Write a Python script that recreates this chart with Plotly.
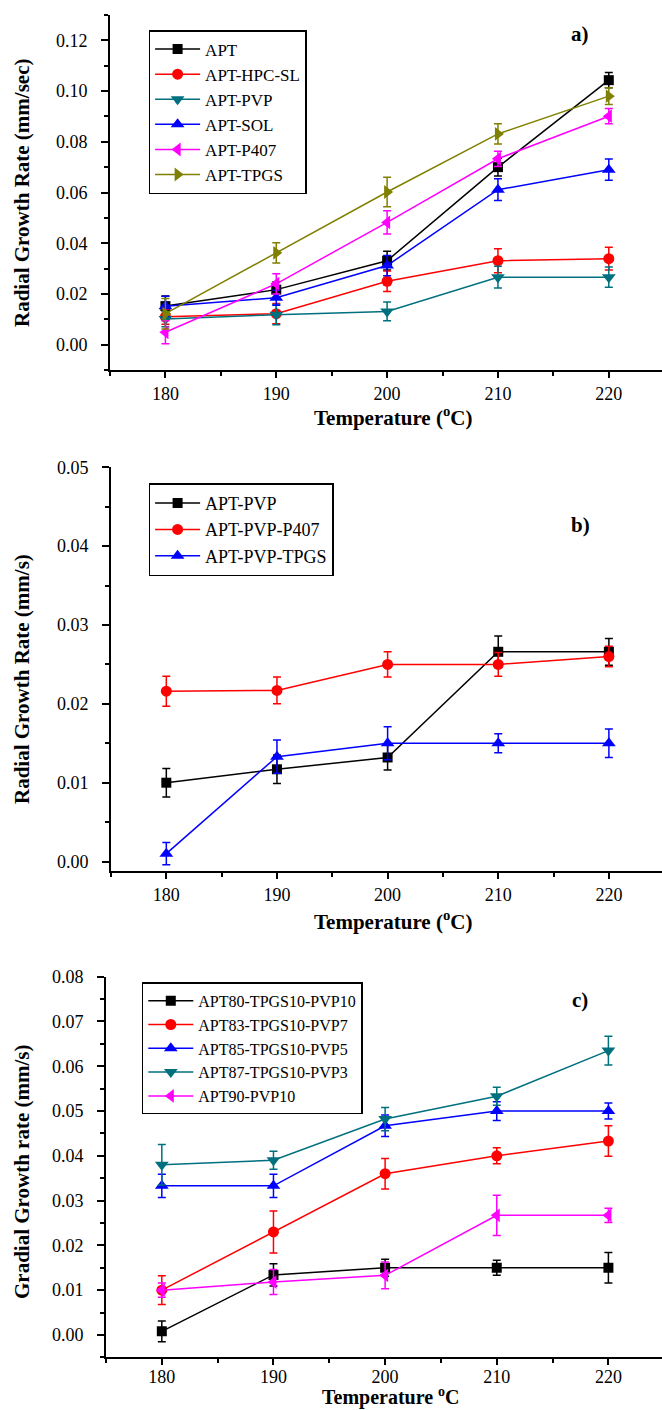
import plotly.graph_objects as go

temps = [180, 190, 200, 210, 220]

# ---- Panel a) data ----
a_names = ["APT", "APT-HPC-SL", "APT-PVP", "APT-SOL", "APT-P407", "APT-TPGS"]
a_apt = [0.0152, 0.0217, 0.0331, 0.0700, 0.1043]
a_apt_err = [0.0040, 0.0030, 0.0037, 0.0035, 0.0030]
a_hpc = [0.0110, 0.0122, 0.0250, 0.0331, 0.0339]
a_hpc_err = [0.0030, 0.0040, 0.0040, 0.0047, 0.0045]
a_pvp = [0.0101, 0.0118, 0.0131, 0.0266, 0.0266]
a_pvp_err = [0.0030, 0.0040, 0.0037, 0.0043, 0.0040]
a_sol = [0.0151, 0.0185, 0.0312, 0.0611, 0.0690]
a_sol_err = [0.0040, 0.0030, 0.0040, 0.0043, 0.0042]
a_p407 = [0.0049, 0.0240, 0.0482, 0.0733, 0.0901]
a_p407_err = [0.0045, 0.0040, 0.0046, 0.0030, 0.0030]
a_tpgs = [0.0122, 0.0362, 0.0602, 0.0831, 0.0980]
a_tpgs_err = [0.0060, 0.0040, 0.0058, 0.0040, 0.0033]

# ---- Panel b) data ----
b_names = ["APT-PVP", "APT-PVP-P407", "APT-PVP-TPGS"]
b_pvp = [0.0100, 0.0117, 0.0132, 0.0266, 0.0266]
b_pvp_err = [0.0018, 0.0018, 0.0016, 0.0020, 0.0017]
b_p407 = [0.0216, 0.0217, 0.0250, 0.0250, 0.0260]
b_p407_err = [0.0019, 0.0017, 0.0016, 0.0015, 0.0013]
b_tpgs = [0.0010, 0.0133, 0.0150, 0.0150, 0.0150]
b_tpgs_err = [0.0014, 0.0021, 0.0021, 0.0012, 0.0018]

# ---- Panel c) data ----
c_names = ["APT80-TPGS10-PVP10", "APT83-TPGS10-PVP7", "APT85-TPGS10-PVP5",
           "APT87-TPGS10-PVP3", "APT90-PVP10"]
c_80 = [0.0008, 0.0134, 0.0150, 0.0150, 0.0150]
c_80_err = [0.0023, 0.0025, 0.0019, 0.0017, 0.0034]
c_83 = [0.0100, 0.0230, 0.0360, 0.0400, 0.0433]
c_83_err = [0.0032, 0.0047, 0.0034, 0.0018, 0.0034]
c_85 = [0.0333, 0.0333, 0.0467, 0.0500, 0.0500]
c_85_err = [0.0026, 0.0026, 0.0024, 0.0021, 0.0018]
c_87 = [0.0380, 0.0390, 0.0482, 0.0533, 0.0635]
c_87_err = [0.0045, 0.0020, 0.0026, 0.0020, 0.0032]
c_90 = [0.0100, 0.0118, 0.0133, 0.0267, 0.0267]
c_90_err = [0.0016, 0.0028, 0.0030, 0.0045, 0.0016]

BLACK = "#000000"
RED = "#FF0000"
TEAL = "#00707F"
BLUE = "#0000FF"
MAGENTA = "#FF00FF"
OLIVE = "#808000"

SERIF = "Liberation Serif, Times New Roman, serif"

fig = go.Figure()


def add(x_ax, y_ax, legend, name, vals, errs, color, symbol, size):
    fig.add_trace(go.Scatter(
        x=temps, y=vals, name=name, mode="lines+markers",
        xaxis=x_ax, yaxis=y_ax, legend=legend,
        line=dict(color=color, width=1.5),
        marker=dict(color=color, symbol=symbol, size=size),
        error_y=dict(type="data", array=errs, visible=True, color=color,
                     thickness=1.5, width=4),
    ))


a_series = [(a_apt, a_apt_err, BLACK, "square", 10),
            (a_hpc, a_hpc_err, RED, "circle", 11),
            (a_pvp, a_pvp_err, TEAL, "triangle-down", 12),
            (a_sol, a_sol_err, BLUE, "triangle-up", 12),
            (a_p407, a_p407_err, MAGENTA, "triangle-left", 12),
            (a_tpgs, a_tpgs_err, OLIVE, "triangle-right", 12)]
for nm, (v, e, c, s, z) in zip(a_names, a_series):
    add("x", "y", "legend", nm, v, e, c, s, z)

b_series = [(b_pvp, b_pvp_err, BLACK, "square", 10),
            (b_p407, b_p407_err, RED, "circle", 11),
            (b_tpgs, b_tpgs_err, BLUE, "triangle-up", 12)]
for nm, (v, e, c, s, z) in zip(b_names, b_series):
    add("x2", "y2", "legend2", nm, v, e, c, s, z)

c_series = [(c_80, c_80_err, BLACK, "square", 10),
            (c_83, c_83_err, RED, "circle", 11),
            (c_85, c_85_err, BLUE, "triangle-up", 12),
            (c_87, c_87_err, TEAL, "triangle-down", 12),
            (c_90, c_90_err, MAGENTA, "triangle-left", 12)]
for nm, (v, e, c, s, z) in zip(c_names, c_series):
    add("x3", "y3", "legend3", nm, v, e, c, s, z)

W, H = 662, 1410


def px_x(p):
    return p / W


def px_y(p):
    return (H - p) / H


tickfont = dict(family=SERIF, size=18, color="black")


def xaxis(left_px, anchor, standoff=0):
    return dict(domain=[px_x(left_px), 1.0], range=[175, 224.8], anchor=anchor,
                tickmode="linear", tick0=180, dtick=10,
                showline=True, linecolor="black", linewidth=2,
                ticks="outside", ticklen=6, tickwidth=1.5, tickcolor="black",
                ticklabelstandoff=standoff,
                minor=dict(ticks="outside", ticklen=4, tickwidth=1.5,
                           tickcolor="black", dtick=5, tick0=175),
                showgrid=False, zeroline=False, tickfont=tickfont,
                automargin=False)


def yaxis(top_px, bot_px, rng, dtick, mdtick, anchor):
    return dict(domain=[px_y(bot_px), px_y(top_px)], range=rng, anchor=anchor,
                tickmode="linear", tick0=0, dtick=dtick, tickformat=".2f",
                showline=True, linecolor="black", linewidth=2,
                ticks="outside", ticklen=7, tickwidth=1.5, tickcolor="black",
                ticklabelstandoff=10,
                minor=dict(ticks="outside", ticklen=4, tickwidth=1.5,
                           tickcolor="black", dtick=mdtick, tick0=0),
                showgrid=False, zeroline=False, tickfont=tickfont,
                automargin=False)


def legend(left_px, top_px, size):
    return dict(x=px_x(left_px), y=px_y(top_px), xanchor="left", yanchor="top",
                bgcolor="white", bordercolor="black", borderwidth=1.5,
                font=dict(family=SERIF, size=size, color="black"),
                itemwidth=45, tracegroupgap=0)


fig.update_layout(
    width=W, height=H,
    margin=dict(l=0, r=0, t=0, b=0),
    paper_bgcolor="white", plot_bgcolor="white",
    showlegend=True,
    xaxis=xaxis(110, "y"),
    yaxis=yaxis(15, 370, [-0.01, 0.13], 0.02, 0.01, "x"),
    xaxis2=xaxis(111, "y2"),
    yaxis2=yaxis(467.3, 871, [-0.0012, 0.05], 0.01, 0.005, "x2"),
    xaxis3=xaxis(106, "y3", -4),
    yaxis3=yaxis(976.7, 1357.3, [-0.005, 0.08], 0.01, 0.005, "x3"),
    legend=legend(148.6, 30, 17),
    legend2=legend(148.6, 483.3, 18),
    legend3=legend(141.8, 982.3, 16),
)

title_font = dict(family=SERIF, size=21, color="black")
annots = [
    # panel labels
    dict(text="<b>a)</b>", x=px_x(580), y=px_y(34)),
    dict(text="<b>b)</b>", x=px_x(580), y=px_y(525)),
    dict(text="<b>c)</b>", x=px_x(580), y=px_y(1000)),
    # y titles
    dict(text="<b>Radial Growth Rate (mm/sec)</b>", x=px_x(22), y=px_y(193), textangle=-90),
    dict(text="<b>Radial Growth Rate (mm/s)</b>", x=px_x(22), y=px_y(679), textangle=-90),
    dict(text="<b>Gradial Growth rate (mm/s)</b>", x=px_x(22), y=px_y(1172), textangle=-90),
]
for a in annots:
    fig.add_annotation(xref="paper", yref="paper", showarrow=False,
                       xanchor="center", yanchor="middle", font=title_font, **a)

for xr, ypx, txt, ya, fs in [("x", 416, "<b>Temperature (<sup>o</sup>C)</b>", "middle", 21),
                             ("x2", 920, "<b>Temperature (<sup>o</sup>C)</b>", "middle", 21),
                             ("x3", 1410, "<b>Temperature <sup>o</sup>C</b>", "bottom", 20)]:
    fig.add_annotation(xref=xr, yref="paper", x=200.5, y=px_y(ypx), text=txt,
                       showarrow=False, xanchor="center", yanchor=ya,
                       borderpad=0,
                       font=dict(family=SERIF, size=fs, color="black"))

fig.write_html(
    "out.html",
    config={"displayModeBar": False},
    post_script="document.documentElement.style.margin='0';"
                "document.body.style.margin='0';"
                "document.body.style.overflow='hidden';",
)
